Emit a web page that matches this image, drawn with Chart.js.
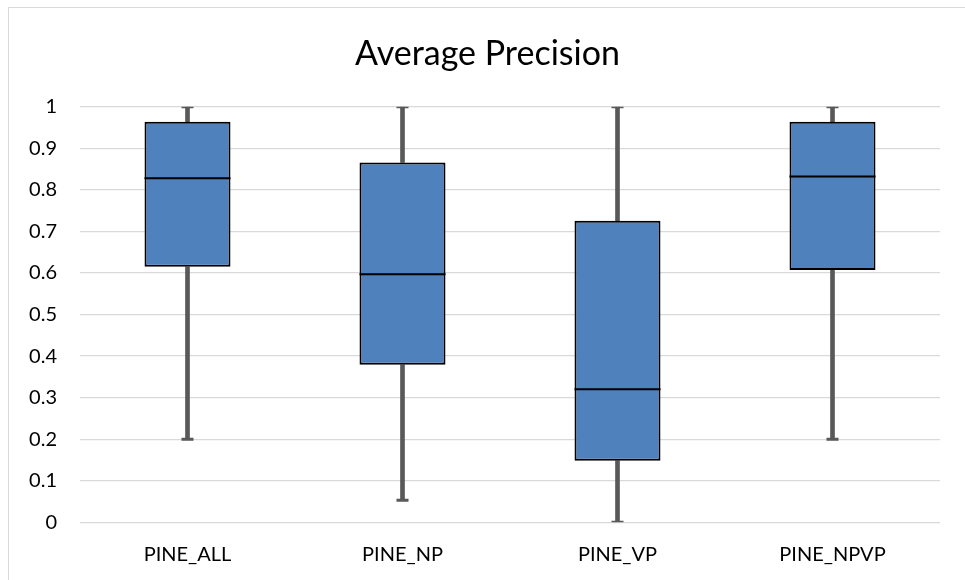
<!DOCTYPE html>
<html>
<head>
<meta charset="utf-8">
<title>Average Precision</title>
<script src="https://cdn.jsdelivr.net/npm/chart.js"></script>
<style>
    html, body { margin: 0; padding: 0; background: #fff; overflow: hidden; }
    #wrap { position: relative; width: 965px; height: 580px; }
    #frame { position: absolute; left: 8px; top: 7px; width: 1200px; height: 1200px; border: 1.5px solid #d9d9d9; }
    canvas { position: absolute; left: 0; top: 0; }
</style>
</head>
<body>
<div id="wrap">
    <div id="frame"></div>
    <canvas id="boxChart" width="965" height="580"></canvas>
</div>
<script>
// box plot values
const categories = ['PINE_ALL', 'PINE_NP', 'PINE_VP', 'PINE_NPVP'];
const minVals    = [0.20, 0.053, 0.0, 0.20];
const q1Vals     = [0.615, 0.379, 0.148, 0.607];
const medianVals = [0.828, 0.597, 0.320, 0.832];
const q3Vals     = [0.964, 0.866, 0.726, 0.964];
const maxVals    = [1.0, 1.0, 1.0, 1.0];
const yTicks     = [0, 0.1, 0.2, 0.3, 0.4, 0.5, 0.6, 0.7, 0.8, 0.9, 1];

const whiskerColor = '#595959';
const boxColor = '#4f81bd';

const ctx = document.getElementById('boxChart').getContext('2d');
new Chart(ctx, {
    type: 'bar',
    data: {
        labels: categories,
        datasets: [
            {
                // median line
                type: 'line',
                data: medianVals,
                showLine: false,
                pointStyle: 'line',
                pointRadius: 43,
                pointBorderWidth: 2,
                pointBorderColor: '#000',
                pointBackgroundColor: '#000'
            },
            {
                // box q1..q3
                data: categories.map((c, i) => [q1Vals[i], q3Vals[i]]),
                backgroundColor: boxColor,
                borderColor: '#000',
                borderWidth: 2,
                borderSkipped: false,
                barPercentage: 0.4,
                categoryPercentage: 1,
                grouped: false
            },
            {
                // caps at max
                type: 'line',
                data: maxVals,
                showLine: false,
                pointStyle: 'line',
                pointRadius: 6,
                pointBorderWidth: 3,
                pointBorderColor: whiskerColor
            },
            {
                // caps at min
                type: 'line',
                data: minVals,
                showLine: false,
                pointStyle: 'line',
                pointRadius: 6,
                pointBorderWidth: 3,
                pointBorderColor: whiskerColor
            },
            {
                // upper whisker
                data: categories.map((c, i) => [q3Vals[i], maxVals[i]]),
                backgroundColor: whiskerColor,
                barThickness: 4,
                grouped: false
            },
            {
                // lower whisker
                data: categories.map((c, i) => [minVals[i], q1Vals[i]]),
                backgroundColor: whiskerColor,
                barThickness: 4,
                grouped: false
            }
        ]
    },
    options: {
        responsive: false,
        animation: false,
        layout: { autoPadding: false, padding: { left: 10, right: 0, top: 0, bottom: 0 } },
        plugins: {
            legend: { display: false },
            tooltip: { enabled: false },
            title: {
                display: true,
                text: 'Average Precision',
                color: '#000',
                font: { family: 'Lato', size: 34, weight: 'normal', lineHeight: 1.2 },
                padding: { top: 34, bottom: 32 }
            }
        },
        scales: {
            x: {
                grid: { display: false, drawTicks: false },
                border: { display: false },
                ticks: { color: '#000', font: { family: 'Lato', size: 20 }, padding: 20 },
                afterFit: (scale) => { scale.height = 57.7; }
            },
            y: {
                min: 0,
                max: 1,
                afterBuildTicks: (scale) => { scale.ticks = yTicks.map(v => ({ value: v })); },
                grid: { color: '#d9d9d9', lineWidth: 1.3, drawTicks: false },
                border: { display: false },
                ticks: { color: '#000', font: { family: 'Lato', size: 20 }, padding: 23,
                         callback: (v) => String(v) },
                afterFit: (scale) => { scale.width = 70; }
            },
            // empty strip on the right
            yRight: {
                position: 'right',
                min: 0,
                max: 1,
                grid: { display: false, drawTicks: false },
                border: { display: false },
                ticks: { display: false },
                afterFit: (scale) => { scale.width = 25; }
            }
        }
    }
});
</script>
</body>
</html>
